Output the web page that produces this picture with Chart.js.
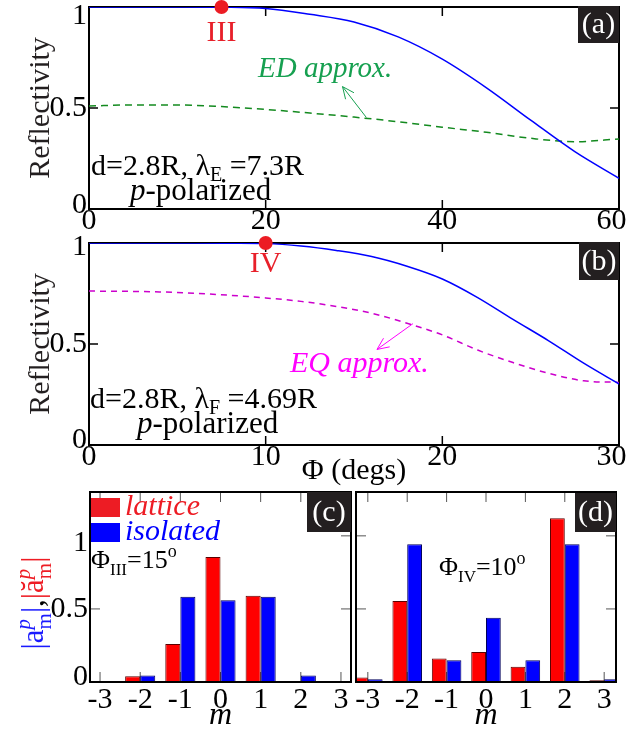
<!DOCTYPE html>
<html>
<head>
<meta charset="utf-8">
<script src="https://cdn.jsdelivr.net/npm/chart.js@4.4.1/dist/chart.umd.min.js"></script>
<style>
  html, body { margin: 0; padding: 0; background: #fff; }
  #wrap { position: relative; width: 626px; height: 732px; overflow: hidden; }
  canvas { position: absolute; }
</style>
</head>
<body>
<div id="wrap">
  <canvas id="ca" width="626" height="236" style="left:0;top:0"></canvas>
  <canvas id="cb" width="626" height="250" style="left:0;top:236px"></canvas>
  <canvas id="cc" width="354" height="246" style="left:0;top:486px"></canvas>
  <canvas id="cd" width="272" height="246" style="left:354px;top:486px"></canvas>
</div>
<script>
const serif = "'Liberation Serif', 'Times New Roman', serif";

// (a) lambda_E = 7.3R
const phiA = [0, 5, 10, 15, 20, 25, 30, 35, 40, 45, 50, 55, 60];
const latticeA = [1.0, 1.0, 1.0, 0.999, 0.993, 0.964, 0.926, 0.852, 0.742, 0.6, 0.44, 0.284, 0.152];
const edApproxA = [0.51, 0.515, 0.515, 0.507, 0.493, 0.475, 0.455, 0.432, 0.405, 0.38, 0.35, 0.333, 0.347];
const pointIII = {x: 15, y: 1};

// (b) lambda_F = 4.69R
const phiB = [0, 2, 4, 6, 8, 10, 12, 14, 16, 18, 20, 22, 24, 26, 28, 30];
const latticeB = [1, 1, 1, 1, 0.999, 0.997, 0.985, 0.963, 0.933, 0.885, 0.822, 0.73, 0.622, 0.517, 0.405, 0.302];
const eqApproxB = [0.762, 0.761, 0.758, 0.751, 0.741, 0.728, 0.711, 0.686, 0.652, 0.603, 0.545, 0.47, 0.408, 0.355, 0.318, 0.31];
const pointIV = {x: 10, y: 1};

// (c), (d) multipole amplitudes
const mValues = [-3, -2, -1, 0, 1, 2, 3];
const latticeC = [0, 0.04, 0.26, 0.855, 0.59, 0, 0];
const isolatedC = [0, 0.045, 0.583, 0.56, 0.583, 0.045, 0];
const latticeD = [0.03, 0.555, 0.16, 0.205, 0.105, 1.12, 0.012];
const isolatedD = [0.018, 0.943, 0.148, 0.44, 0.148, 0.943, 0.018];

function xy(xs, ys) { return xs.map((x, i) => ({x: x, y: ys[i]})); }

// draw a row of text pieces (sub/superscripts via dy), returns width
function runs(ctx, x, y, parts, measureOnly) {
  let cx = x;
  parts.forEach(p => {
    ctx.font = (p.style ? p.style + ' ' : '') + p.size + 'px ' + serif;
    const w = ctx.measureText(p.t).width;
    if (!measureOnly) {
      ctx.fillStyle = p.color || '#000';
      ctx.fillText(p.t, cx, y + (p.dy || 0));
    }
    if (!p.stack) cx += w;
  });
  return cx - x;
}

function arrow(ctx, x1, y1, x2, y2, color) {
  const a = Math.atan2(y2 - y1, x2 - x1), L = 13, s = 0.42;
  ctx.strokeStyle = color;
  ctx.lineWidth = 1;
  ctx.beginPath();
  ctx.moveTo(x1, y1); ctx.lineTo(x2, y2);
  ctx.moveTo(x2 - L * Math.cos(a - s), y2 - L * Math.sin(a - s));
  ctx.lineTo(x2, y2);
  ctx.lineTo(x2 - L * Math.cos(a + s), y2 - L * Math.sin(a + s));
  ctx.stroke();
}

function tag(ctx, x, y, w, h, text) {
  ctx.fillStyle = '#231f20';
  ctx.fillRect(x, y, w, h);
  ctx.fillStyle = '#fff';
  ctx.font = '30px ' + serif;
  ctx.textAlign = 'center';
  ctx.textBaseline = 'middle';
  ctx.fillText(text, x + w / 2, y + h / 2 + 1);
  ctx.textAlign = 'left';
  ctx.textBaseline = 'alphabetic';
}

// box + inward ticks
const frame = {
  id: 'frame',
  beforeDatasetsDraw(chart, args, opts) {
    const {ctx, chartArea: a, scales: {x, y}} = chart;
    const len = opts.len || 9;
    ctx.save();
    ctx.strokeStyle = opts.color || '#000';
    ctx.lineWidth = opts.width || 1.5;
    ctx.beginPath();
    x.ticks.forEach(t => {
      const px = x.getPixelForValue(t.value);
      ctx.moveTo(px, a.bottom); ctx.lineTo(px, a.bottom - len);
      ctx.moveTo(px, a.top); ctx.lineTo(px, a.top + len);
    });
    y.ticks.forEach(t => {
      const py = y.getPixelForValue(t.value);
      ctx.moveTo(a.left, py); ctx.lineTo(a.left + len, py);
      ctx.moveTo(a.right, py); ctx.lineTo(a.right - len, py);
    });
    ctx.stroke();
    if (!opts.boxOnTop) this.box(chart);
    ctx.restore();
  },
  afterDatasetsDraw(chart, args, opts) {
    if (opts.boxOnTop) this.box(chart);
  },
  box(chart) {
    const {ctx, chartArea: a} = chart;
    ctx.save();
    ctx.strokeStyle = '#000';
    ctx.lineWidth = 2;
    ctx.strokeRect(a.left, a.top, a.right - a.left, a.bottom - a.top);
    ctx.restore();
  }
};

// y tick labels: "1" and "0" nudged like in the figure (two-line label trick)
function yTickLabel(v) {
  if (v === 1) return ['', '1'];
  if (v === 0) return ['0', ''];
  return String(v);
}
function yTickFont(down1, up0) {
  return c => {
    let lh = 1;
    if (c.tick && c.tick.value === 1) lh = (down1 * 2) + 'px';
    if (c.tick && c.tick.value === 0) lh = (up0 * 2) + 'px';
    return {family: serif, size: 30, lineHeight: lh};
  };
}

function lineOptions(xmax, step, xTitle, canvasH, down1, up0) {
  return {
    responsive: false,
    animation: false,
    layout: {padding: {top: 6, right: 7, left: 0, bottom: 0}},
    plugins: {legend: {display: false}, tooltip: {enabled: false}, frame: {len: 9, width: 1.5}},
    scales: {
      x: {
        type: 'linear', min: 0, max: xmax,
        grid: {display: false, drawTicks: false},
        border: {display: false},
        ticks: {
          stepSize: step, includeBounds: false, autoSkip: false, maxRotation: 0, padding: -3,
          color: '#000', font: {family: serif, size: 30, lineHeight: 1},
          callback: v => v === xmax ? v + '\u00a0\u00a0' : String(v)
        },
        title: {display: !!xTitle, text: xTitle || '', color: '#000',
                font: {family: serif, size: 30, lineHeight: 1}, padding: {top: 0, bottom: 0}},
        afterFit: s => { s.height = canvasH - 209; s.paddingLeft = 0; s.paddingRight = 0; }
      },
      y: {
        min: 0, max: 1,
        grid: {display: false, drawTicks: false},
        border: {display: false},
        ticks: {stepSize: 0.5, includeBounds: false, padding: 2, color: '#000',
                font: yTickFont(down1, up0), callback: yTickLabel},
        title: {display: true, text: 'Reflectivity', color: '#231f20',
                font: {family: serif, size: 30, lineHeight: 1}, padding: {top: 26, bottom: 0}},
        afterFit: s => { s.width = 89; s.paddingTop = 0; s.paddingBottom = 0; }
      }
    }
  };
}

function barOptions(xmin, xmax, showY, leftW, rightPad) {
  return {
    responsive: false,
    animation: false,
    layout: {padding: {top: 6, right: rightPad, left: 0, bottom: 0}},
    plugins: {legend: {display: false}, tooltip: {enabled: false},
              frame: {len: 10, width: 1, color: '#555', boxOnTop: true}},
    datasets: {bar: {categoryPercentage: 0.75, barPercentage: 1, borderWidth: 1}},
    scales: {
      x: {
        type: 'linear', offset: false, min: xmin, max: xmax,
        grid: {display: false, drawTicks: false, offset: false},
        border: {display: false},
        ticks: {stepSize: 1, includeBounds: false, autoSkip: false, maxRotation: 0, padding: 3,
                color: '#000', font: {family: serif, size: 30, lineHeight: 1}},
        title: {display: true, text: 'm', color: '#000',
                font: {family: serif, size: 32, style: 'italic', lineHeight: 1}, padding: {top: 0, bottom: 0}},
        afterFit: s => { s.height = 50; s.paddingLeft = 0; s.paddingRight = 0; }
      },
      y: {
        min: 0, max: 1.3,
        grid: {display: false, drawTicks: false},
        border: {display: false},
        ticks: {display: showY, stepSize: 0.5, includeBounds: false, padding: 2, color: '#000',
                font: yTickFont(7, 5), callback: yTickLabel},
        afterFit: s => { s.width = leftW; s.paddingTop = 0; s.paddingBottom = 0; }
      }
    }
  };
}

// ---------- (a) ----------
new Chart(document.getElementById('ca'), {
  type: 'line',
  data: {
    datasets: [
      {data: [pointIII], showLine: false, pointRadius: 7, pointBackgroundColor: '#ec1c24',
       pointBorderWidth: 0, clip: false},
      {data: xy(phiA, latticeA), borderColor: '#0000ff', borderWidth: 1.5, pointRadius: 0,
       cubicInterpolationMode: 'monotone'},
      {data: xy(phiA, edApproxA), borderColor: '#138a1f', borderWidth: 1.5, borderDash: [7, 5],
       pointRadius: 0, cubicInterpolationMode: 'monotone'}
    ]
  },
  options: lineOptions(60, 20, null, 236, 9, 4),
  plugins: [frame, {
    id: 'textA',
    afterDraw(chart) {
      const {ctx, scales: {x, y}} = chart;
      ctx.save();
      ctx.font = '30px ' + serif;
      ctx.fillStyle = '#e8202a';
      ctx.textAlign = 'center';
      ctx.fillText('III', x.getPixelForValue(pointIII.x), 41);
      ctx.textAlign = 'left';
      runs(ctx, 258, 77, [{t: 'ED approx.', size: 29, style: 'italic', color: '#16a050'}]);
      arrow(ctx, x.getPixelForValue(31.4), y.getPixelForValue(0.453),
                 x.getPixelForValue(28.7), y.getPixelForValue(0.606), '#16a050');
      runs(ctx, 91, 175, [{t: 'd=2.8R, \u03bb', size: 30}, {t: 'E', size: 20, dy: 6},
                          {t: ' =7.3R', size: 30}]);
      runs(ctx, 130, 200, [{t: 'p', size: 31, style: 'italic'}, {t: '-polarized', size: 31}]);
      tag(ctx, 578, 6, 41, 37, '(a)');
      ctx.restore();
    }
  }]
});

// ---------- (b) ----------
new Chart(document.getElementById('cb'), {
  type: 'line',
  data: {
    datasets: [
      {data: [pointIV], showLine: false, pointRadius: 7, pointBackgroundColor: '#ec1c24',
       pointBorderWidth: 0, clip: false},
      {data: xy(phiB, latticeB), borderColor: '#0000ff', borderWidth: 1.5, pointRadius: 0,
       cubicInterpolationMode: 'monotone'},
      {data: xy(phiB, eqApproxB), borderColor: '#cc00cc', borderWidth: 1.5, borderDash: [6, 5],
       pointRadius: 0, cubicInterpolationMode: 'monotone'}
    ]
  },
  options: lineOptions(30, 10, '\u03a6 (degs)', 250, 4, 5),
  plugins: [frame, {
    id: 'textB',
    afterDraw(chart) {
      const {ctx, scales: {x, y}} = chart;
      ctx.save();
      ctx.font = '30px ' + serif;
      ctx.fillStyle = '#e8202a';
      ctx.textAlign = 'center';
      ctx.fillText('IV', x.getPixelForValue(pointIV.x), 36);
      ctx.textAlign = 'left';
      runs(ctx, 290, 136, [{t: 'EQ approx.', size: 30, style: 'italic', color: '#ff00ff'}]);
      arrow(ctx, x.getPixelForValue(18.34), y.getPixelForValue(0.601),
                 x.getPixelForValue(16.3), y.getPixelForValue(0.473), '#ff00ff');
      runs(ctx, 90, 172, [{t: 'd=2.8R, \u03bb', size: 30}, {t: 'F', size: 20, dy: 6},
                          {t: ' =4.69R', size: 30}]);
      runs(ctx, 137, 197, [{t: 'p', size: 31, style: 'italic'}, {t: '-polarized', size: 31}]);
      tag(ctx, 579, 6, 40, 38, '(b)');
      ctx.restore();
    }
  }]
});

// ---------- (c) ----------
new Chart(document.getElementById('cc'), {
  type: 'bar',
  data: {
    datasets: [
      {label: 'lattice', data: xy(mValues, latticeC), backgroundColor: '#ff0000', borderColor: '#5a0000'},
      {label: 'isolated', data: xy(mValues, isolatedC), backgroundColor: '#0000ff', borderColor: '#00005a'}
    ]
  },
  options: barOptions(-3.25, 3.25, true, 90, 3),
  plugins: [frame, {
    id: 'textC',
    afterDraw(chart) {
      const ctx = chart.ctx;
      ctx.save();
      ctx.fillStyle = '#ed1c24';
      ctx.fillRect(91, 12, 29, 19);
      ctx.fillStyle = '#0000ff';
      ctx.fillRect(91, 37, 29, 19);
      runs(ctx, 125, 29, [{t: 'lattice', size: 30, style: 'italic', color: '#ed1c24'}]);
      runs(ctx, 125, 54, [{t: 'isolated', size: 30, style: 'italic', color: '#0000ff'}]);
      runs(ctx, 91, 82, [{t: '\u03a6', size: 26}, {t: 'III', size: 17, dy: 7},
                         {t: '=15', size: 26}, {t: 'o', size: 18, dy: -11}]);
      tag(ctx, 307, 6, 44, 40, '(c)');
      // y title |a_m^p|, |ă_m^p|
      const blue = '#1a1aff', red = '#ee1c24';
      const parts = [
        {t: '|a', size: 31, color: blue},
        {t: 'p', size: 21, style: 'italic', dy: -13, color: blue, stack: true},
        {t: 'm', size: 21, dy: 8, color: blue},
        {t: '|', size: 31, color: blue},
        {t: ',', size: 31, color: '#000'},
        {t: '|\u0103', size: 31, color: red},
        {t: 'p', size: 21, style: 'italic', dy: -13, color: red, stack: true},
        {t: 'm', size: 21, dy: 8, color: red},
        {t: '|', size: 31, color: red}
      ];
      const w = runs(ctx, 0, 0, parts, true);
      ctx.translate(43, 117);
      ctx.rotate(-Math.PI / 2);
      runs(ctx, -w / 2, 0, parts);
      ctx.restore();
    }
  }]
});

// ---------- (d) ----------
new Chart(document.getElementById('cd'), {
  type: 'bar',
  data: {
    datasets: [
      {label: 'lattice', data: xy(mValues, latticeD), backgroundColor: '#ff0000', borderColor: '#5a0000'},
      {label: 'isolated', data: xy(mValues, isolatedD), backgroundColor: '#0000ff', borderColor: '#00005a'}
    ]
  },
  options: barOptions(-3.3, 3.3, false, 2, 10),
  plugins: [frame, {
    id: 'textD',
    afterDraw(chart) {
      const ctx = chart.ctx;
      ctx.save();
      runs(ctx, 85, 89, [{t: '\u03a6', size: 26}, {t: 'IV', size: 17, dy: 7},
                         {t: '=10', size: 26}, {t: 'o', size: 18, dy: -11}]);
      tag(ctx, 221, 7, 41, 39, '(d)');
      ctx.restore();
    }
  }]
});
</script>
</body>
</html>
